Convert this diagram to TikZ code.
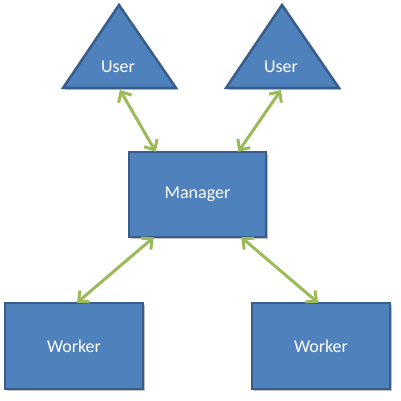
\documentclass[tikz,border=0pt]{standalone}
\usepackage{fontspec}
\setmainfont{Carlito}
\usetikzlibrary{arrows.meta,shadows}
\definecolor{boxfill}{HTML}{4F81BD}
\definecolor{boxline}{HTML}{385D8A}
\definecolor{arrowgreen}{HTML}{9BBB59}
\tikzset{
  shapebox/.style={draw=boxline, fill=boxfill, line width=2.5pt, line join=miter,
    drop shadow={shadow xshift=2pt, shadow yshift=-2pt, opacity=0.25, fill=black}},
  boxnode/.style={shapebox, rectangle, inner sep=0pt, text=white, font=\fontsize{18}{21}\selectfont},
  labeltext/.style={text=white, font=\fontsize{18}{21}\selectfont, inner sep=0pt},
  link/.style={draw=arrowgreen, line width=3pt,
    {Straight Barb[length=8pt,width=15pt,line width=3pt]}-{Straight Barb[length=8pt,width=15pt,line width=3pt]}}
}
\begin{document}
\begin{tikzpicture}[x=1pt,y=-1pt]
\useasboundingbox (0,0) rectangle (401,401);
% triangles
\path[shapebox] (119,5) -- (176,88) -- (63,88) -- cycle;
\path[shapebox] (282,5) -- (339,88) -- (226,88) -- cycle;
\node[labeltext] (u1) at (118,67) {User};
\node[labeltext] (u2) at (281,67) {User};
\coordinate (u1b) at (120,90);
\coordinate (u2b) at (281,90);
% boxes
\node[boxnode, minimum width=137pt, minimum height=85pt] (m) at (197.5,194.5) {Manager};
\node[boxnode, minimum width=138pt, minimum height=86pt] (w1) at (74,346) {Worker};
\node[boxnode, minimum width=138pt, minimum height=86pt] (w2) at (321,346) {Worker};
% connectors
\draw[link] (u1b) -- ([xshift=28pt,yshift=-1pt]m.north west);
\draw[link] (u2b) -- ([xshift=-29pt,yshift=-1pt]m.north east);
\draw[link] ([xshift=26pt,yshift=1pt]m.south west) -- ([xshift=3pt,yshift=-1pt]w1.north);
\draw[link] ([xshift=-26pt,yshift=1pt]m.south east) -- ([xshift=-3pt,yshift=-1pt]w2.north);
\end{tikzpicture}
\end{document}
